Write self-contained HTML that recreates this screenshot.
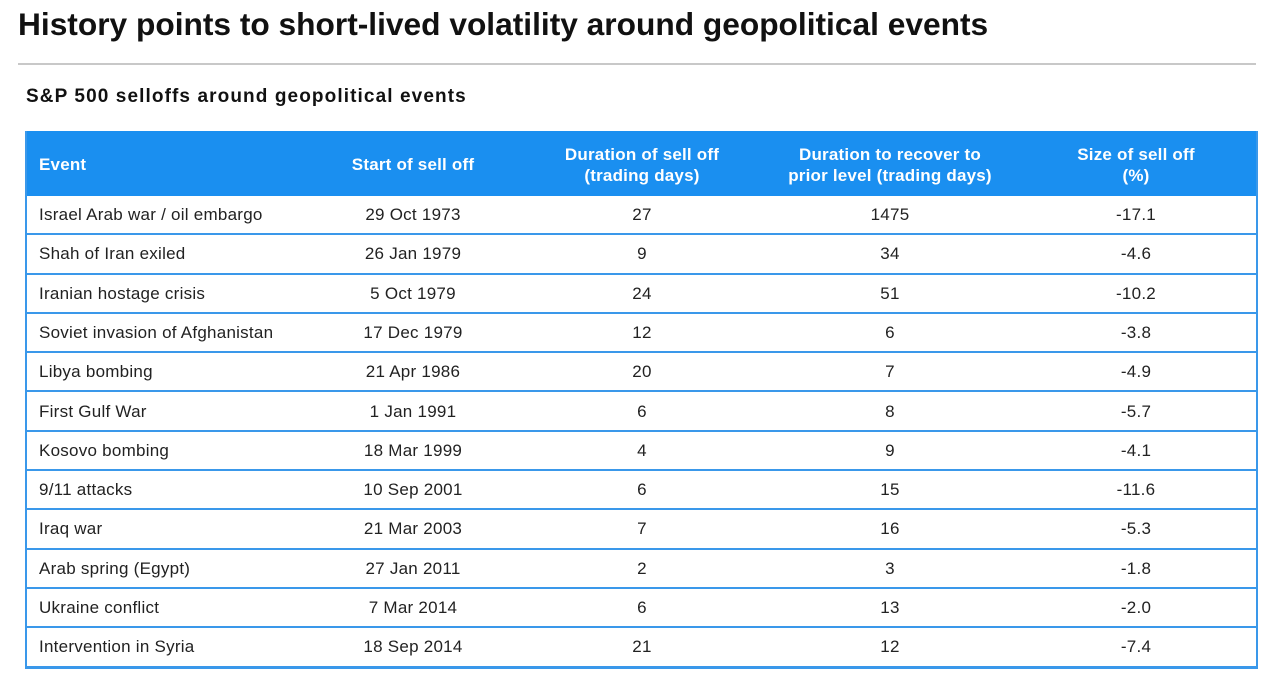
<!DOCTYPE html>
<html><head><meta charset="utf-8"><style>
body{margin:0;width:1280px;height:687px;background:#fff;font-family:"Liberation Sans",Arial,sans-serif;position:relative;overflow:hidden;color:#222}
.t{position:absolute;left:18px;top:6px;font-size:31.7px;font-weight:bold;color:#111;letter-spacing:0px}
.hr{position:absolute;left:18px;top:63px;width:1238px;height:2px;background:#c8c8c8}
.s{position:absolute;left:26px;top:86px;font-size:19px;font-weight:bold;color:#111;letter-spacing:1.1px}
.tbl{position:absolute;left:25px;top:131px;width:1229px;height:536px;border:2px solid #3a98ea;border-top:none;box-sizing:content-box}
.hd{position:absolute;left:0;top:0;width:1229px;height:65px;background:#1a8ff0;color:#fff;font-weight:bold;font-size:17px;letter-spacing:0.2px}
.c{position:absolute;text-align:center;transform:translateX(-50%);white-space:nowrap;line-height:21px}
.row{position:absolute;left:0;width:1229px;height:39.3px;border-bottom:2px solid #3a98ea;box-sizing:border-box;font-size:17px;letter-spacing:0.25px;color:#222}
.row .c,.row .l{top:8px}
.l{position:absolute;left:12px;white-space:nowrap;line-height:21px}
</style></head><body>
<div class="t">History points to short-lived volatility around geopolitical events</div>
<div class="hr"></div>
<div class="s">S&amp;P 500 selloffs around geopolitical events</div>
<div class="tbl">
<div class="hd">
<div class="l" style="top:23px">Event</div>
<div class="c" style="left:386px;top:23px">Start of sell off</div>
<div class="c" style="left:615px;top:13px">Duration of sell off<br>(trading days)</div>
<div class="c" style="left:863px;top:13px">Duration to recover to<br>prior level (trading days)</div>
<div class="c" style="left:1109px;top:13px">Size of sell off<br>(%)</div>
</div>
<div id="rows"></div>
</div>
<script>
var d=[["Israel Arab war / oil embargo","29 Oct 1973","27","1475","-17.1"],["Shah of Iran exiled","26 Jan 1979","9","34","-4.6"],["Iranian hostage crisis","5 Oct 1979","24","51","-10.2"],["Soviet invasion of Afghanistan","17 Dec 1979","12","6","-3.8"],["Libya bombing","21 Apr 1986","20","7","-4.9"],["First Gulf War","1 Jan 1991","6","8","-5.7"],["Kosovo bombing","18 Mar 1999","4","9","-4.1"],["9/11 attacks","10 Sep 2001","6","15","-11.6"],["Iraq war","21 Mar 2003","7","16","-5.3"],["Arab spring (Egypt)","27 Jan 2011","2","3","-1.8"],["Ukraine conflict","7 Mar 2014","6","13","-2.0"],["Intervention in Syria","18 Sep 2014","21","12","-7.4"]];
var h="",xs=[386,615,863,1109];
d.forEach(function(r,i){h+='<div class="row" style="top:'+(65+i*39.3)+'px"><div class="l">'+r[0]+'</div>';for(var j=1;j<5;j++)h+='<div class="c" style="left:'+xs[j-1]+'px">'+r[j]+'</div>';h+='</div>';});
document.getElementById("rows").outerHTML=h;
</script>
</body></html>
